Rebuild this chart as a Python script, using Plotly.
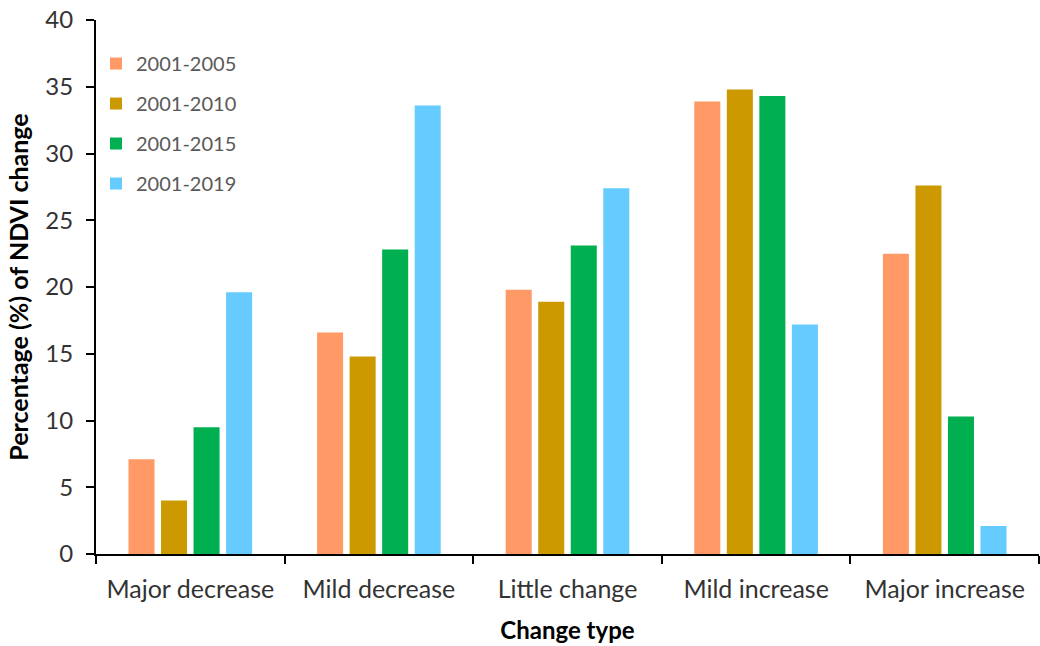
import plotly.graph_objects as go

categories = ["Major decrease", "Mild decrease", "Little change", "Mild increase", "Major increase"]
series_names = ["2001-2005", "2001-2010", "2001-2015", "2001-2019"]
v_2005 = [7.1, 16.6, 19.8, 33.9, 22.5]
v_2010 = [4.0, 14.8, 18.9, 34.8, 27.6]
v_2015 = [9.5, 22.8, 23.1, 34.3, 10.3]
v_2019 = [19.6, 33.6, 27.4, 17.2, 2.1]
colors = ["#FF9966", "#CC9900", "#00B050", "#66CCFF"]

fig = go.Figure()
for name, vals, c in zip(series_names, [v_2005, v_2010, v_2015, v_2019], colors):
    fig.add_trace(go.Bar(x=categories, y=vals, name=name, legendgroup=name,
                         marker=dict(color=c, line=dict(width=0))))

font_family = "Lato, 'Open Sans', sans-serif"
fig.update_layout(
    width=1040, height=646,
    margin=dict(l=96, r=1, t=20, b=92, autoexpand=False),
    plot_bgcolor="white", paper_bgcolor="white",
    barmode="group", bargap=0.31, bargroupgap=0.2,
    font=dict(family=font_family, color="#404040"),
    legend=dict(x=0.0, y=0.955, xanchor="left", yanchor="top", traceorder="grouped",
                font=dict(size=20, color="#595959"), tracegroupgap=11,
                itemwidth=30, bgcolor="rgba(0,0,0,0)"),
    xaxis=dict(showline=True, linecolor="black", linewidth=2, automargin=False,
               ticks="outside", tickson="boundaries", ticklen=8, tickwidth=2, tickcolor="black",
               ticklabelstandoff=12, ticklabeloverflow="allow",
               tickfont=dict(size=25, color="#333333"),
               title=dict(text="<b>Change type</b>", font=dict(size=24, color="black"), standoff=20)),
    yaxis=dict(range=[0, 40], dtick=5, showline=True, linecolor="black", linewidth=2, automargin=False,
               ticks="outside", ticklen=8, tickwidth=2, tickcolor="black", showgrid=False, zeroline=False,
               ticklabelstandoff=8, ticklabeloverflow="allow",
               tickfont=dict(size=24, color="#333333"),
               title=dict(text="<b>Percentage (%) of NDVI change</b>", font=dict(size=25, color="black"), standoff=10)),
)
fig.write_html("out.html", config={"displayModeBar": False},
               post_script="document.body.style.margin='0';")
